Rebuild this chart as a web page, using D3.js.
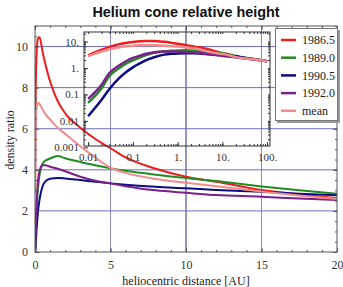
<!DOCTYPE html>
<html>
<head>
<meta charset="utf-8">
<script src="https://cdn.jsdelivr.net/npm/d3@7"></script>
<style>
  body { margin: 0; background: #fff; }
  svg text { font-family: "Liberation Serif", "DejaVu Serif", serif; }
</style>
</head>
<body>
<svg id="chart" width="343" height="287"></svg>
<script>
// heliocentric distances [AU] sampled for every series
const rValues = [0.01,0.02,0.03,0.05,0.07,0.1,0.15,0.2,0.3,0.5,0.7,1,1.5,2,3,4,5,6,8,10,12,15,17.5,20,30,50,70,100];

const ratio1986 = [3.0,4.9,6.3,8.0,8.9,9.6,10.2,10.4,10.45,9.75,9.1,8.3,7.35,6.75,6.05,5.5,5.05,4.6,4.05,3.66,3.42,3.02,2.8,2.62,2.4,2.15,1.98,1.82];
const ratio1989 = [0.048,0.17,0.5,1.0,1.46,1.96,2.6,3.1,3.75,4.3,4.45,4.55,4.67,4.56,4.38,4.22,4.07,3.95,3.76,3.6,3.45,3.19,3.0,2.83,2.5,2.18,1.99,1.82];
const ratio1990 = [0.015,0.063,0.16,0.42,0.69,1.06,1.55,2.0,2.55,3.2,3.45,3.57,3.6,3.58,3.5,3.42,3.34,3.27,3.17,3.1,3.02,2.93,2.84,2.76,2.45,2.15,1.98,1.81];
const ratio1992 = [0.068,0.234,0.65,1.27,1.8,2.4,3.0,3.45,3.95,4.22,4.22,4.15,4.05,3.93,3.66,3.47,3.34,3.2,3.0,2.88,2.77,2.69,2.6,2.53,2.33,2.1,1.96,1.8];
const ratioMean = [2.8,4.2,5.1,6.1,6.6,7.0,7.2,7.25,7.2,6.95,6.7,6.45,6.05,5.75,5.15,4.6,4.1,3.85,3.55,3.37,3.2,2.95,2.75,2.58,2.36,2.12,1.97,1.81];

const seriesNames = ["1986.5","1989.0","1990.5","1992.0","mean"];
const seriesValues = [ratio1986, ratio1989, ratio1990, ratio1992, ratioMean];
const seriesColors = ["#ee1c1c","#228b22","#0b0b85","#7b1f8c","#f28b8b"];

const mainXTicks = [0,5,10,15,20];
const mainYTicks = [0,2,4,6,8,10];
const insetXTicks = [0.01,0.1,1,10,100];
const insetXLabels = ["0.01","0.1","1.","10.","100."];
const insetYTicks = [0.001,0.01,0.1,1,10];
const insetYLabels = ["0.001","0.01","0.1","1.","10."];

const svg = d3.select("#chart");

// ---- main plot ----
const x = d3.scaleLinear().domain([0,20]).range([35,337]);
const y = d3.scaleLinear().domain([0,11]).range([252,26]);

// grid
svg.append("g").selectAll("line").data([5,10,15]).enter().append("line")
  .attr("x1", d => x(d)).attr("x2", d => x(d)).attr("y1", y(11)).attr("y2", y(0))
  .attr("stroke", d => d === 10 ? "#2c2c86" : "#8a8ad0").attr("stroke-width", 1);
svg.append("g").selectAll("line").data([2,4,6,8,10]).enter().append("line")
  .attr("x1", x(0)).attr("x2", x(20)).attr("y1", d => y(d)).attr("y2", d => y(d))
  .attr("stroke", "#6c6cc0").attr("stroke-width", 1);

svg.append("clipPath").attr("id","mainclip").append("rect")
  .attr("x", x(0)).attr("y", y(11)).attr("width", x(20)-x(0)).attr("height", y(0)-y(11));

const mainLine = d3.line().x(d => x(d[0])).y(d => y(d[1])).curve(d3.curveMonotoneX);
const curves = svg.append("g").attr("clip-path","url(#mainclip)");
seriesValues.forEach((vals, i) => {
  const pts = rValues.map((r, j) => [r, vals[j]]).filter(p => p[0] <= 20.5);
  curves.append("path").datum(pts).attr("d", mainLine)
    .attr("fill","none").attr("stroke", seriesColors[i]).attr("stroke-width", 2);
});

// frame & axes
function styleAxis(g) {
  g.select(".domain").remove();
  g.selectAll(".tick line").attr("stroke","#555");
  g.selectAll(".tick text").attr("fill","#333").style("font-size","12px")
    .style("font-family","'Liberation Serif', serif");
}
svg.append("g").attr("transform",`translate(0,${y(0)})`)
  .call(d3.axisBottom(x).tickValues(d3.range(0,21,1)).tickSize(-2).tickFormat("")).call(styleAxis);
svg.append("g").attr("transform",`translate(0,${y(0)})`)
  .call(d3.axisBottom(x).tickValues(mainXTicks).tickSize(-4).tickPadding(8).tickFormat(d3.format("d"))).call(styleAxis);
svg.append("g").attr("transform",`translate(0,${y(11)})`)
  .call(d3.axisTop(x).tickValues(d3.range(0,21,1)).tickSize(-2).tickFormat("")).call(styleAxis);
svg.append("g").attr("transform",`translate(0,${y(11)})`)
  .call(d3.axisTop(x).tickValues(mainXTicks).tickSize(-4).tickFormat("")).call(styleAxis);
svg.append("g").attr("transform",`translate(${x(0)},0)`)
  .call(d3.axisLeft(y).tickValues(d3.range(0,11.01,0.5)).tickSize(-2).tickFormat("")).call(styleAxis);
svg.append("g").attr("transform",`translate(${x(0)},0)`)
  .call(d3.axisLeft(y).tickValues(mainYTicks).tickSize(-4).tickPadding(7).tickFormat(d3.format("d"))).call(styleAxis);
svg.append("g").attr("transform",`translate(${x(20)},0)`)
  .call(d3.axisRight(y).tickValues(d3.range(0,11.01,0.5)).tickSize(-2).tickFormat("")).call(styleAxis);
svg.append("g").attr("transform",`translate(${x(20)},0)`)
  .call(d3.axisRight(y).tickValues(mainYTicks).tickSize(-4).tickFormat("")).call(styleAxis);
svg.append("rect").attr("x", x(0)).attr("y", y(11)).attr("width", x(20)-x(0)).attr("height", y(0)-y(11))
  .attr("fill","none").attr("stroke","#555").attr("stroke-width",1);

// ---- inset (log-log) ----
const xl = d3.scaleLog().domain([0.0081,116]).range([84,270]);
const yl = d3.scaleLog().domain([0.00112,23]).range([146,32]);

const minorLog = [];
[0.01,0.1,1,10,100].forEach(dec => { for (let k = 1; k < 10; k++) minorLog.push(dec*k); });
const xlMinor = minorLog.filter(v => v >= 0.0081 && v <= 116);
const ylMinor = [0.001,0.01,0.1,1,10].flatMap(dec => d3.range(1,10).map(k => dec*k)).filter(v => v >= 0.00112 && v <= 23);

function styleInset(g) {
  g.select(".domain").remove();
  g.selectAll(".tick line").attr("stroke","#333");
  g.selectAll(".tick text").attr("fill","#333").style("font-size","11px")
    .style("font-family","'Liberation Serif', serif");
}
const insetLine = d3.line().x(d => xl(d[0])).y(d => yl(d[1])).curve(d3.curveMonotoneX);
seriesValues.forEach((vals, i) => {
  const pts = rValues.map((r, j) => [r, vals[j]]);
  svg.append("path").datum(pts).attr("d", insetLine)
    .attr("fill","none").attr("stroke", seriesColors[i]).attr("stroke-width", 2.5);
});

svg.append("g").attr("transform","translate(0,146)")
  .call(d3.axisBottom(xl).tickValues(xlMinor).tickSize(-2).tickFormat("")).call(styleInset);
svg.append("g").attr("transform","translate(0,146)")
  .call(d3.axisBottom(xl).tickValues(insetXTicks).tickSize(-4).tickPadding(7)
    .tickFormat((d, i) => insetXLabels[i])).call(styleInset);
svg.append("g").attr("transform","translate(0,32)")
  .call(d3.axisTop(xl).tickValues(xlMinor).tickSize(-2).tickFormat("")).call(styleInset);
svg.append("g").attr("transform","translate(84,0)")
  .call(d3.axisLeft(yl).tickValues(ylMinor).tickSize(-2).tickFormat("")).call(styleInset);
svg.append("g").attr("transform","translate(84,0)")
  .call(d3.axisLeft(yl).tickValues(insetYTicks).tickSize(-4).tickPadding(5)
    .tickFormat((d, i) => insetYLabels[i])).call(styleInset);
svg.append("g").attr("transform","translate(270,0)")
  .call(d3.axisRight(yl).tickValues(ylMinor).tickSize(-2).tickFormat("")).call(styleInset);
svg.append("rect").attr("x",84).attr("y",32).attr("width",186).attr("height",114)
  .attr("fill","none").attr("stroke","#333").attr("stroke-width",1);

// ---- legend ----
const legend = svg.append("g");
legend.append("rect").attr("x",277).attr("y",30).attr("width",63).attr("height",93).attr("fill","#999");
legend.append("rect").attr("x",275.5).attr("y",28.5).attr("width",62).attr("height",92)
  .attr("fill","#fff").attr("stroke","#777").attr("stroke-width",1);
seriesNames.forEach((name, i) => {
  const ly = 40 + i*17.7;
  legend.append("line").attr("x1",281).attr("x2",296).attr("y1",ly).attr("y2",ly)
    .attr("stroke", seriesColors[i]).attr("stroke-width",2.5);
  legend.append("text").attr("x",302).attr("y",ly).attr("dy","0.35em")
    .style("font-size","12px").attr("fill","#222").text(name);
});

// ---- titles ----
svg.append("text").attr("x",186).attr("y",12).attr("dy","0.35em").attr("text-anchor","middle")
  .style("font-family","'Liberation Sans', Arial, sans-serif").style("font-weight","bold")
  .style("font-size","14.4px").attr("fill","#111").text("Helium cone relative height");
svg.append("text").attr("x",186).attr("y",281).attr("dy","0.35em").attr("text-anchor","middle")
  .style("font-size","12px").attr("fill","#222").text("heliocentric distance [AU]");
svg.append("text").attr("transform","translate(10,140) rotate(-90)").attr("dy","0.35em")
  .attr("text-anchor","middle").style("font-size","12px").attr("fill","#222").text("density ratio");
</script>
</body>
</html>
